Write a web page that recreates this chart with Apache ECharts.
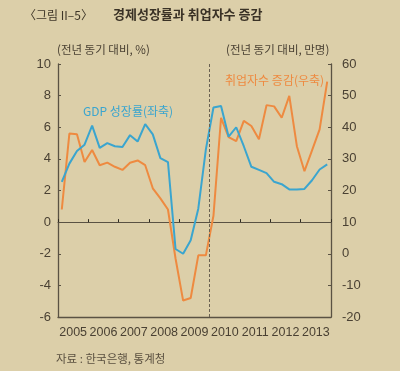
<!DOCTYPE html>
<html>
<head>
<meta charset="utf-8">
<script src="https://cdn.jsdelivr.net/npm/echarts@6/dist/echarts.min.js"></script>
<style>
html,body{margin:0;padding:0;background:#dccfa9;}
#c{width:400px;height:371px;}
</style>
</head>
<body>
<div id="c"></div>
<script>
// ---- data ----
const years = ['2005','2006','2007','2008','2009','2010','2011','2012','2013'];
const quarterNames = ['Q1','Q2','Q3','Q4'];
// GDP growth, % y/y (left axis)
const gdpGrowth = [2.55, 3.7, 4.5, 4.9, 6.1, 4.7, 5.0, 4.8, 4.75, 5.5, 5.1, 6.2,
  5.55, 4.05, 3.8, -1.7, -2.0, -1.15, 0.85, 4.6, 7.25, 7.35, 5.4, 6.0,
  4.8, 3.5, 3.3, 3.1, 2.55, 2.4, 2.07, 2.07, 2.1, 2.65, 3.33, 3.65];
// employment change, 10k persons y/y (right axis)
const employChange = [14, 38, 37.8, 29, 32.8, 28, 28.8, 27.5, 26.5, 28.8, 29.5, 28,
  20.7, 17.5, 14, -1.5, -14.8, -14, -0.5, -0.5, 12, 43, 36.9, 35.6,
  42, 40.4, 36.2, 47, 46.6, 43, 49.9, 34, 26.1, 32.7, 39.3, 54.4];
const leftTicks = {min: -6, max: 10, interval: 2};
const rightTicks = {min: -20, max: 60, interval: 10};
const dividerYear = '2010';

const quarters = [];
years.forEach(y => quarterNames.forEach(q => quarters.push(y + q)));

const axisColor = '#5a5243';
const textColor = '#4a4133';
const blue = '#3aa5cf';
const orange = '#ee8a40';
const font = '"Liberation Sans", Arial, sans-serif';
const kfont = '"Noto Sans CJK KR", sans-serif';

const chart = echarts.init(document.getElementById('c'));
chart.setOption({
  backgroundColor: '#dccfa9',
  animation: false,
  grid: {left: 58, right: 69, top: 64, bottom: 54},
  xAxis: [
    { // year labels at bottom
      type: 'category', data: years, position: 'bottom', boundaryGap: true,
      axisLine: {onZero: false, lineStyle: {color: axisColor, width: 1.3}},
      axisTick: {show: false},
      axisLabel: {interval: 0, color: textColor, fontFamily: font, fontSize: 12.5, margin: 9},
      splitLine: {show: false}
    },
    { // zero line with year ticks
      type: 'category', data: years, position: 'bottom', boundaryGap: true,
      axisLine: {onZero: true, onZeroAxisIndex: 0, lineStyle: {color: axisColor, width: 1}},
      axisTick: {show: true, inside: true, length: 3, interval: 0, lineStyle: {color: '#2e2a22', width: 1}},
      axisLabel: {show: false},
      splitLine: {show: false}
    },
    { // quarterly data axis
      type: 'category', data: quarters, boundaryGap: true, show: false
    },
    { // year-boundary scale for divider
      type: 'value', min: 0, max: years.length, show: false
    }
  ],
  yAxis: [
    {
      type: 'value', position: 'left', min: leftTicks.min, max: leftTicks.max, interval: leftTicks.interval,
      axisLine: {show: true, lineStyle: {color: axisColor, width: 1.3}},
      axisTick: {show: true, inside: true, length: 3, lineStyle: {color: axisColor}},
      axisLabel: {color: textColor, fontFamily: font, fontSize: 13, margin: 7},
      splitLine: {show: false}
    },
    {
      type: 'value', position: 'right', min: rightTicks.min, max: rightTicks.max, interval: rightTicks.interval,
      axisLine: {show: true, lineStyle: {color: axisColor, width: 1.3}},
      axisTick: {show: true, inside: true, length: 3, lineStyle: {color: axisColor}},
      axisLabel: {color: textColor, fontFamily: font, fontSize: 13, margin: 11},
      splitLine: {show: false}
    }
  ],
  series: [
    {
      name: 'divider', type: 'line', xAxisIndex: 3, yAxisIndex: 0,
      data: [[0, null]], symbol: 'none', silent: true, z: 2,
      markLine: {
        silent: true, symbol: 'none', label: {show: false},
        lineStyle: {color: '#6a6152', type: [3, 2], width: 1},
        data: [{xAxis: years.indexOf(dividerYear)}]
      }
    },
    {
      name: '취업자수 증감(우축)', type: 'line', xAxisIndex: 2, yAxisIndex: 1,
      data: employChange, symbol: 'none', lineStyle: {color: orange, width: 2}, z: 3
    },
    {
      name: 'GDP 성장률(좌축)', type: 'line', xAxisIndex: 2, yAxisIndex: 0,
      data: gdpGrowth, symbol: 'none', lineStyle: {color: blue, width: 2}, z: 4
    }
  ],
  graphic: [
    {type: 'text', left: 24, top: 9, style: {text: '〈그림 II–5〉', fill: '#3e3628', font: '12px ' + kfont}},
    {type: 'text', left: 113, top: 8, style: {text: '경제성장률과 취업자수 증감', fill: '#3a3226', font: 'bold 13px ' + kfont}},
    {type: 'text', left: 57, top: 44, style: {text: '(전년 동기 대비, %)', fill: textColor, font: '11.5px ' + kfont}},
    {type: 'text', left: 226, top: 44, style: {text: '(전년 동기 대비, 만명)', fill: textColor, font: '11.5px ' + kfont}},
    {type: 'text', left: 83, top: 105, style: {text: 'GDP 성장률(좌축)', fill: blue, font: '12px ' + kfont}},
    {type: 'text', left: 225, top: 74, style: {text: '취업자수 증감(우축)', fill: orange, font: '12px ' + kfont}},
    {type: 'text', left: 56, top: 353, style: {text: '자료 : 한국은행, 통계청', fill: '#5a5040', font: '11.5px ' + kfont}}
  ]
});
</script>
</body>
</html>
